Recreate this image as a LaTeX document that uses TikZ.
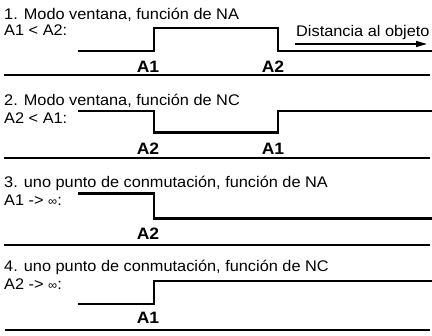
\documentclass[tikz,border=0pt]{standalone}
\usepackage{fontspec}
\setmainfont{Liberation Sans}
\newfontfamily\widefont[FakeStretch=1.06]{Liberation Sans}
\usetikzlibrary{arrows.meta}
\begin{document}
\begin{tikzpicture}[x=1pt,y=-1pt,
  txt/.style={anchor=base west,inner sep=0pt,font=\widefont\fontsize{15.4}{18}\selectfont},
  lab/.style={anchor=base,inner sep=0pt,font=\widefont\fontsize{16.5}{18}\selectfont\bfseries},
  sig/.style={line width=2.8pt,line join=miter},
  rulel/.style={line width=2pt},
  arr/.style={line width=1.3pt,-{Triangle[length=11pt,width=6pt]}}]
\useasboundingbox (0,0) rectangle (432,336);
% Panel 1
\node[txt] (t1) at (4,19.5) {1. Modo ventana, función de NA};
\node[txt] (c1) at (4,36) {A1 < A2:};
\coordinate (p1a) at (78,51);
\coordinate (p1b) at (154,51);
\coordinate (p1c) at (154,28);
\coordinate (p1d) at (278,28);
\coordinate (p1e) at (278,51);
\coordinate (p1f) at (432,51);
\draw[sig] (p1a) -- (p1b) -- (p1c) -- (p1d) -- (p1e) -- (p1f);
\node[lab] (l1a) at (148,73) {A1};
\node[lab] (l1b) at (273,73) {A2};
\coordinate (r1a) at (4,75.5);
\coordinate (r1b) at (430,75.5);
\draw[rulel] (r1a) -- (r1b);
\node[txt] (d1) at (296,37) {Distancia al objeto};
\coordinate (a1s) at (295,44);
\coordinate (a1e) at (427,44);
\draw[arr] (a1s) -- (a1e);
% Panel 2
\node[txt] (t2) at (4,105.3) {2. Modo ventana, función de NC};
\node[txt] (c2) at (4,124) {A2 < A1:};
\coordinate (p2a) at (78,111);
\coordinate (p2b) at (154,111);
\coordinate (p2c) at (154,132.5);
\coordinate (p2d) at (278,132.5);
\coordinate (p2e) at (278,111);
\coordinate (p2f) at (432,111);
\draw[sig] (p2a) -- (p2b) -- (p2c) -- (p2d) -- (p2e) -- (p2f);
\node[lab] (l2a) at (148,155) {A2};
\node[lab] (l2b) at (273,155) {A1};
\coordinate (r2a) at (4,158.5);
\coordinate (r2b) at (430,158.5);
\draw[rulel] (r2a) -- (r2b);
% Panel 3
\node[txt] (t3) at (4,187.3) {3. uno punto de conmutación, función de NA};
\node[txt] (c3) at (4,205.3) {A1 -> {\fontsize{12}{14}\selectfont ∞}:};
\coordinate (p3a) at (78,193.5);
\coordinate (p3b) at (154,193.5);
\coordinate (p3c) at (154,218.5);
\coordinate (p3d) at (432,218.5);
\draw[sig] (p3a) -- (p3b) -- (p3c) -- (p3d);
\node[lab] (l3a) at (148,240) {A2};
\coordinate (r3a) at (4,245);
\coordinate (r3b) at (430,245);
\draw[rulel] (r3a) -- (r3b);
% Panel 4
\node[txt] (t4) at (4,271.3) {4. uno punto de conmutación, función de NC};
\node[txt] (c4) at (4,289.3) {A2 -> {\fontsize{12}{14}\selectfont ∞}:};
\coordinate (p4a) at (78,304);
\coordinate (p4b) at (154,304);
\coordinate (p4c) at (154,281);
\coordinate (p4d) at (432,281);
\draw[sig] (p4a) -- (p4b) -- (p4c) -- (p4d);
\node[lab] (l4a) at (148,324) {A1};
\coordinate (r4a) at (5,330);
\coordinate (r4b) at (430,330);
\draw[rulel] (r4a) -- (r4b);
\end{tikzpicture}
\end{document}
